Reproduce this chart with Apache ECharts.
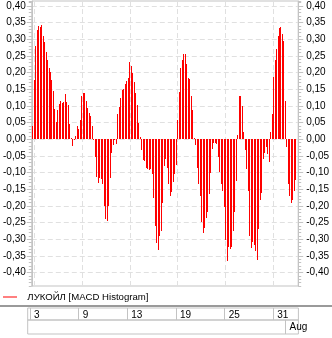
<!DOCTYPE html>
<html>
<head>
<meta charset="utf-8">
<script src="https://cdn.jsdelivr.net/npm/echarts@6/dist/echarts.min.js"></script>
<style>
  html, body { margin: 0; padding: 0; background: #ffffff; }
  #chart { width: 332px; height: 338px; }
</style>
</head>
<body>
<div id="chart"></div>
<script>
// Hourly MACD histogram for LUKOIL, 2 Jul – 2 Aug 2012
const seriesName = 'ЛУКОЙЛ [MACD Histogram]';

const tradingDays = ['03.07', '04.07', '05.07', '06.07', '09.07', '10.07', '11.07', '12.07', '13.07',
  '16.07', '17.07', '18.07', '19.07', '20.07', '23.07', '24.07', '25.07', '26.07', '27.07',
  '30.07', '31.07', '01.08'];
const sessionHours = ['10:00', '11:00', '12:00', '13:00', '14:00', '15:00', '16:00', '17:00'];
const firstBar = '02.07 17:00';
const lastBar = '02.08 10:00';

// Day tick marks on the date strip
const dayMarks = ['03.07', '09.07', '13.07', '19.07', '25.07', '31.07'];
const dayMarkLabels = ['3', '9', '13', '19', '25', '31'];
const monthMarks = ['01.08'];
const monthMarkLabels = ['Aug'];

// Value-axis tick labels
const yTickValues = [-0.40, -0.35, -0.30, -0.25, -0.20, -0.15, -0.10, -0.05, 0,
  0.05, 0.10, 0.15, 0.20, 0.25, 0.30, 0.35, 0.40];

// Histogram values, one per hourly bar
const macdHist = [
  0.040,
  0.178, 0.280, 0.328, 0.340, 0.336, 0.343, 0.310, 0.292,
  0.262, 0.238, 0.214, 0.202, 0.178, 0.145, 0.091, 0.051,
  0.088, 0.106, 0.115, 0.109, 0.112, 0.136, 0.112, 0.103,
  0.045, 0.003, -0.020, -0.003, 0.009, 0.040, 0.030, 0.058,
  0.130, 0.138, 0.138, 0.114, 0.093, 0.080, 0.070, 0.040,
  0.002, -0.053, -0.113, -0.131, -0.117, -0.120, -0.133, -0.200,
  -0.240, -0.245, -0.200, -0.116, -0.040, -0.016, -0.003, -0.013,
  0.075, 0.098, 0.124, 0.148, 0.151, 0.166, 0.176, 0.184,
  0.232, 0.220, 0.199, 0.172, 0.138, 0.102, 0.049, 0.007,
  -0.031, -0.061, -0.065, -0.085, -0.088, -0.091, -0.088, -0.103,
  -0.175, -0.260, -0.311, -0.333, -0.290, -0.275, -0.191, -0.080,
  -0.059, -0.086, -0.133, -0.170, -0.158, -0.128, -0.103, -0.078,
  0.057, 0.141, 0.213, 0.239, 0.255, 0.255, 0.225, 0.185,
  0.182, 0.131, 0.087, 0.003, -0.018, -0.086, -0.133, -0.170,
  -0.248, -0.281, -0.266, -0.235, -0.218, -0.163, -0.101, -0.028,
  -0.011, -0.010, -0.015, -0.054, -0.098, -0.133, -0.155, -0.203,
  -0.303, -0.364, -0.322, -0.330, -0.323, -0.275, -0.218, -0.126,
  0.012, 0.131, 0.129, 0.101, 0.021, -0.033, -0.088, -0.155,
  -0.291, -0.326, -0.308, -0.318, -0.335, -0.361, -0.269, -0.183,
  -0.161, -0.060, -0.041, -0.023, -0.043, -0.068, 0.021, 0.075,
  0.186, 0.238, 0.271, 0.310, 0.334, 0.338, 0.315, 0.296,
  0.115, -0.023, -0.135, -0.171, -0.191, -0.183, -0.155, -0.123
];

const categories = [firstBar]
  .concat(tradingDays.flatMap(d => sessionHours.map(h => d + ' ' + h)))
  .concat([lastBar]);

const openIndex = d => categories.indexOf(d + ' ' + sessionHours[0]);
const dayIdx = dayMarks.map(openIndex);
const monthIdx = monthMarks.map(openIndex);
const labelAt = (list, labels) => (v) => {
  const i = list.indexOf(categories.indexOf(v));
  return i >= 0 ? labels[i] : '';
};

const FONT = '"Liberation Sans", Arial, sans-serif';
const AXIS_GRAY = '#c3c3c3';
const GRID_DASH = '#e0e0e0';
const BAR_RED = '#ff0000';
const fmtY = v => (Math.abs(v) < 1e-9 ? 0 : v).toFixed(2).replace('.', ',');

const yRange = { min: -0.44, max: 0.415 };
const L = 27.7, R = 33.6;

function valueAxis(position) {
  return {
    type: 'value', gridIndex: 0, position: position, ...yRange, interval: 0.05,
    axisLine: { show: true, lineStyle: { color: AXIS_GRAY, width: 1 } },
    axisTick: { show: true, customValues: yTickValues, length: 5, lineStyle: { color: AXIS_GRAY } },
    axisLabel: { show: true, customValues: yTickValues, formatter: fmtY,
      margin: position === 'left' ? 6 : 8, color: '#000', fontFamily: FONT, fontSize: 10 },
    splitLine: { show: position === 'left', lineStyle: { color: GRID_DASH, type: [5, 3], width: 1 } }
  };
}
function minorAxis(position) {
  return {
    type: 'value', gridIndex: 0, position: position, ...yRange, interval: 0.01,
    axisLine: { show: false },
    axisTick: { show: true, length: 3, lineStyle: { color: AXIS_GRAY } },
    axisLabel: { show: false },
    splitLine: { show: false }
  };
}
function hiddenY(grid) {
  return { type: 'value', gridIndex: grid, show: false, splitLine: { show: false } };
}
function stripAxis(grid, idx, labelFn) {
  const set = new Set(idx);
  return {
    type: 'category', gridIndex: grid, data: categories, boundaryGap: true, position: 'bottom',
    axisLine: { show: false }, axisTick: { show: false },
    axisLabel: {
      show: true, inside: true, interval: (i) => set.has(i), formatter: labelFn,
      align: 'left', verticalAlign: 'middle', padding: [0, 0, 0, 4], margin: grid === 1 ? 5 : 7,
      color: '#000', fontFamily: FONT, fontSize: 10
    },
    splitLine: { show: true, interval: (i) => set.has(i), alignWithLabel: true,
      lineStyle: { color: AXIS_GRAY, width: 1 } }
  };
}

// One-pixel columns snapped to the device grid, positioned by the category/value scales
function renderColumn(params, api) {
  const idx = api.value(0);
  const v = api.value(1);
  const tip = api.coord([idx, v]);
  const base = api.coord([idx, 0]);
  const x = Math.floor(tip[0]);
  const y0 = Math.round(Math.min(tip[1], base[1]));
  const y1 = Math.round(Math.max(tip[1], base[1]));
  return {
    type: 'rect',
    shape: { x: x, y: y0, width: 1, height: Math.max(1, y1 - y0) },
    style: { fill: api.visual('color') }
  };
}

const chart = echarts.init(document.getElementById('chart'), null, { renderer: 'canvas' });
const daySet = new Set(dayIdx);

chart.setOption({
  animation: false,
  backgroundColor: '#ffffff',
  grid: [
    { left: L, right: R, top: 1, bottom: 52, show: true, borderColor: AXIS_GRAY, borderWidth: 1 },
    { left: L, right: R, top: 308, height: 12, show: true, borderColor: AXIS_GRAY, borderWidth: 1 },
    { left: L, right: R, top: 320, height: 14, show: true, borderColor: AXIS_GRAY, borderWidth: 1 }
  ],
  xAxis: [
    {
      type: 'category', gridIndex: 0, data: categories, boundaryGap: true,
      axisLine: { show: false }, axisTick: { show: false }, axisLabel: { show: false },
      splitLine: { show: true, interval: (i) => daySet.has(i), alignWithLabel: true,
        lineStyle: { color: GRID_DASH, type: [5, 3], width: 1 } }
    },
    stripAxis(1, dayIdx, labelAt(dayIdx, dayMarkLabels)),
    stripAxis(2, monthIdx, labelAt(monthIdx, monthMarkLabels))
  ],
  yAxis: [
    valueAxis('left'), minorAxis('left'),
    valueAxis('right'), minorAxis('right'),
    hiddenY(1), hiddenY(2)
  ],
  legend: {
    left: 3, top: 292, padding: 0, itemWidth: 14, itemHeight: 1, icon: 'rect',
    selectedMode: false, data: [seriesName],
    itemStyle: { color: BAR_RED },
    formatter: name => '  ' + name,
    textStyle: { color: '#000', fontFamily: FONT, fontSize: 9.6 }
  },
  graphic: [
    { type: 'line', shape: { x1: 0, y1: 306, x2: 332, y2: 306 },
      style: { stroke: '#9a9a9a', lineWidth: 2 }, silent: true }
  ],
  series: [{
    name: seriesName, type: 'custom', xAxisIndex: 0, yAxisIndex: 0,
    renderItem: renderColumn,
    encode: { x: 0, y: 1 },
    itemStyle: { color: BAR_RED },
    data: macdHist.map((v, i) => [i, v])
  }]
});
</script>
</body>
</html>
